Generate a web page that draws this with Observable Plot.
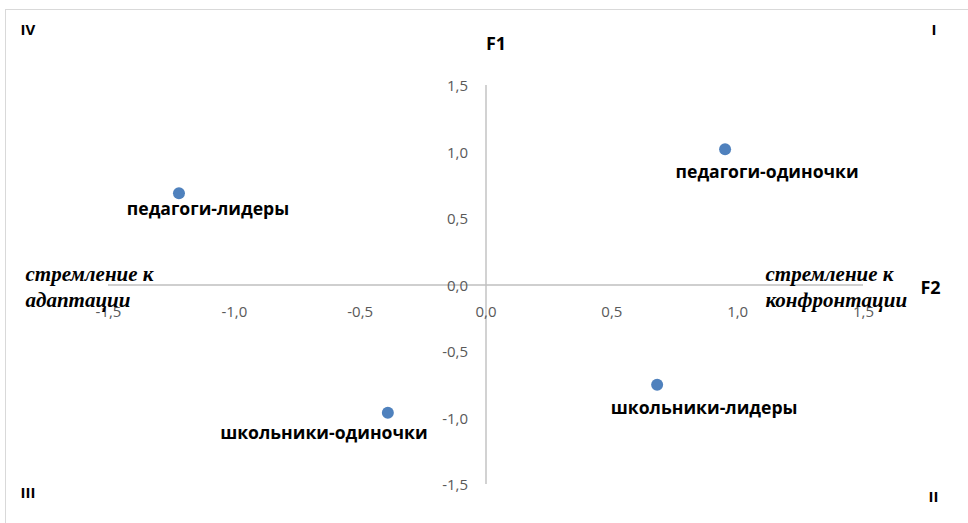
<!DOCTYPE html>
<html><head><meta charset="utf-8">
<script src="https://cdn.jsdelivr.net/npm/d3@7"></script>
<script src="https://cdn.jsdelivr.net/npm/@observablehq/plot@0.6"></script>
<style>
html,body{margin:0;padding:0;background:#fff;overflow:hidden;}
#wrap{position:relative;width:968px;height:523px;}
#border{position:absolute;left:5px;top:9px;width:1000px;height:600px;border:1px solid #d9d9d9;box-sizing:border-box;}
#chart{position:absolute;left:0;top:0;}
</style></head>
<body><div id="wrap"><div id="border"></div><div id="chart"></div></div>
<script>
const groups = ["педагоги-одиночки", "педагоги-лидеры", "школьники-одиночки", "школьники-лидеры"];
const f2Values = [0.95, -1.22, -0.39, 0.68];
const f1Values = [1.02, 0.69, -0.96, -0.75];
const tickValues = [-1.5, -1.0, -0.5, 0.0, 0.5, 1.0, 1.5];
const quadrantLabels = ["I", "II", "III", "IV"];
const axisTitles = ["F1", "F2"];
const poleLabels = ["стремление к\nадаптации", "стремление к\nконфронтации"];

const points = groups.map((g, i) => ({name: g, x: f2Values[i], y: f1Values[i]}));
const fmt = v => v.toFixed(1).replace(".", ",");
const labelOffsets = {
  "педагоги-одиночки": [42, 23],
  "педагоги-лидеры": [29, 16],
  "школьники-одиночки": [-64, 21],
  "школьники-лидеры": [47, 24]
};
const gray = "#595959";
const sans = "'Open Sans', 'Noto Sans', sans-serif";
const serif = "'Liberation Serif', 'DejaVu Serif', serif";
const bold = {fontWeight: "bold", fill: "#000", lineAnchor: "middle"};

const chart = Plot.plot({
  width: 968,
  height: 523,
  marginLeft: 108,
  marginRight: 105,
  marginTop: 85,
  marginBottom: 39,
  x: {domain: [-1.5, 1.5], axis: null},
  y: {domain: [-1.5, 1.5], axis: null},
  style: {fontFamily: sans, background: "transparent", overflow: "visible"},
  marks: [
    Plot.ruleY([0], {stroke: "#bfbfbf", strokeWidth: 1.4}),
    Plot.ruleX([0], {stroke: "#bfbfbf", strokeWidth: 1.4}),
    Plot.text(tickValues, {x: d => d, y: 0, text: fmt, dy: 27, fill: gray, fontSize: 15}),
    Plot.text(tickValues, {x: 0, y: d => d, text: fmt, dx: -18, dy: 1, textAnchor: "end", fill: gray, fontSize: 15}),
    Plot.dot(points, {x: "x", y: "y", r: 6, fill: "#4f81bd"}),
    ...points.map(p => Plot.text([p], {x: "x", y: "y", text: "name", dx: labelOffsets[p.name][0], dy: labelOffsets[p.name][1], fontSize: 17.6, ...bold})),
    Plot.text([axisTitles[0]], {frameAnchor: "top", dx: 10, dy: -41, fontSize: 18, ...bold}),
    Plot.text([axisTitles[1]], {x: 1.5, y: 0, dx: 67, dy: 3, fontSize: 18, ...bold}),
    Plot.text([quadrantLabels[0]], {frameAnchor: "top-right", dx: 73, dy: -55, fontSize: 15, ...bold}),
    Plot.text([quadrantLabels[3]], {frameAnchor: "top-left", dx: -88, dy: -55, textAnchor: "start", fontSize: 15, ...bold}),
    Plot.text([quadrantLabels[2]], {frameAnchor: "bottom-left", dx: -88, dy: 9, textAnchor: "start", fontSize: 15, ...bold}),
    Plot.text([quadrantLabels[1]], {frameAnchor: "bottom-right", dx: 75, dy: 13, fontSize: 15, ...bold}),
    Plot.text([poleLabels[0]], {x: -1.5, y: 0, dx: -83, dy: 1, textAnchor: "start", lineHeight: 1.2, fontFamily: serif, fontStyle: "italic", fontSize: 21, ...bold}),
    Plot.text([poleLabels[1]], {x: 1.5, y: 0, dx: -98, dy: 1, textAnchor: "start", lineHeight: 1.2, fontFamily: serif, fontStyle: "italic", fontSize: 21, ...bold})
  ]
});
document.getElementById("chart").appendChild(chart);
</script>
</body></html>
